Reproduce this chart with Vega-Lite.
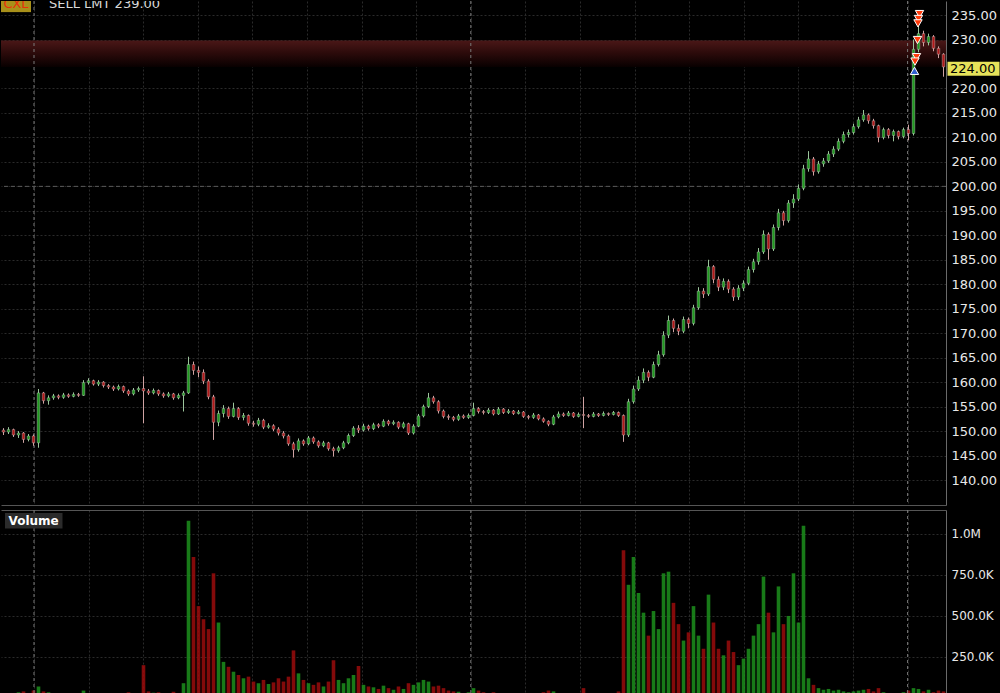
{
"$schema": "https://vega.github.io/schema/vega-lite/v6.json",
"background": "#000000",
"padding": 0,
"spacing": 3,
"config": {"font": "DejaVu Sans", "view": {"stroke": null}, "scale": {"continuousPadding": 0}, "axis": {"labelFont": "DejaVu Sans", "labelColor": "#e8e8e8", "labelFontSize": 13, "gridColor": "#2a2a2a", "gridDash": [2, 2], "domainColor": "#6a6a6a", "ticks": false, "title": null, "labelOverlap": false, "labelBound": false, "labelFlush": false}},
"datasets": {
"candles": [
{"i":0,"o":150.2,"c":149.8,"h":150.6,"l":149.2,"v":25},
{"i":1,"o":149.8,"c":150.3,"h":150.8,"l":149.4,"v":30},
{"i":2,"o":150.3,"c":149.2,"h":150.5,"l":148.8,"v":28},
{"i":3,"o":149.2,"c":149.6,"h":150.0,"l":148.6,"v":35},
{"i":4,"o":149.6,"c":148.3,"h":149.8,"l":147.6,"v":40},
{"i":5,"o":148.3,"c":149.0,"h":149.4,"l":147.9,"v":30},
{"i":6,"o":149.0,"c":147.6,"h":149.3,"l":147.0,"v":45},
{"i":7,"o":147.6,"c":157.8,"h":158.6,"l":146.6,"v":70},
{"i":8,"o":157.8,"c":156.2,"h":158.0,"l":155.6,"v":40},
{"i":9,"o":156.2,"c":156.8,"h":157.3,"l":155.4,"v":35},
{"i":10,"o":156.8,"c":157.2,"h":157.6,"l":156.4,"v":25},
{"i":11,"o":157.2,"c":156.9,"h":157.5,"l":156.5,"v":22},
{"i":12,"o":156.9,"c":157.4,"h":157.8,"l":156.6,"v":20},
{"i":13,"o":157.4,"c":157.1,"h":157.7,"l":156.8,"v":18},
{"i":14,"o":157.1,"c":157.5,"h":157.9,"l":156.9,"v":22},
{"i":15,"o":157.5,"c":157.3,"h":157.8,"l":157.0,"v":20},
{"i":16,"o":157.3,"c":159.9,"h":160.4,"l":157.2,"v":45},
{"i":17,"o":159.9,"c":160.3,"h":160.8,"l":159.5,"v":30},
{"i":18,"o":160.3,"c":159.6,"h":160.5,"l":159.3,"v":28},
{"i":19,"o":159.6,"c":160.0,"h":160.4,"l":159.2,"v":22},
{"i":20,"o":160.0,"c":159.3,"h":160.2,"l":158.9,"v":25},
{"i":21,"o":159.3,"c":159.0,"h":159.6,"l":158.6,"v":20},
{"i":22,"o":159.0,"c":158.6,"h":159.3,"l":158.2,"v":26},
{"i":23,"o":158.6,"c":159.1,"h":159.5,"l":158.3,"v":22},
{"i":24,"o":159.1,"c":158.2,"h":159.3,"l":157.8,"v":30},
{"i":25,"o":158.2,"c":157.6,"h":158.5,"l":157.2,"v":35},
{"i":26,"o":157.6,"c":158.4,"h":158.8,"l":157.3,"v":28},
{"i":27,"o":158.4,"c":158.7,"h":159.1,"l":158.0,"v":25},
{"i":28,"o":158.7,"c":158.2,"h":161.2,"l":151.6,"v":200},
{"i":29,"o":158.2,"c":157.8,"h":158.6,"l":157.4,"v":40},
{"i":30,"o":157.8,"c":158.3,"h":158.7,"l":157.5,"v":32},
{"i":31,"o":158.3,"c":157.6,"h":158.5,"l":157.2,"v":35},
{"i":32,"o":157.6,"c":157.2,"h":157.9,"l":156.8,"v":30},
{"i":33,"o":157.2,"c":157.6,"h":158.0,"l":156.9,"v":28},
{"i":34,"o":157.6,"c":156.8,"h":157.8,"l":156.4,"v":38},
{"i":35,"o":156.8,"c":157.3,"h":157.7,"l":156.5,"v":30},
{"i":36,"o":157.3,"c":157.8,"h":158.2,"l":154.0,"v":90},
{"i":37,"o":157.8,"c":163.6,"h":165.2,"l":157.6,"v":1080},
{"i":38,"o":163.6,"c":162.4,"h":164.2,"l":161.5,"v":860},
{"i":39,"o":162.4,"c":162.0,"h":163.2,"l":161.0,"v":560},
{"i":40,"o":162.0,"c":160.2,"h":162.6,"l":159.6,"v":480},
{"i":41,"o":160.2,"c":157.0,"h":160.6,"l":156.5,"v":420},
{"i":42,"o":157.0,"c":151.8,"h":157.4,"l":148.2,"v":760},
{"i":43,"o":151.8,"c":153.6,"h":154.2,"l":151.0,"v":460},
{"i":44,"o":153.6,"c":154.6,"h":155.3,"l":152.8,"v":220},
{"i":45,"o":154.6,"c":153.0,"h":155.0,"l":152.5,"v":190},
{"i":46,"o":153.0,"c":154.6,"h":155.8,"l":152.8,"v":160},
{"i":47,"o":154.6,"c":152.8,"h":154.9,"l":152.3,"v":140},
{"i":48,"o":152.8,"c":153.2,"h":153.7,"l":152.2,"v":120},
{"i":49,"o":153.2,"c":151.6,"h":153.4,"l":151.1,"v":130},
{"i":50,"o":151.6,"c":151.4,"h":152.1,"l":150.9,"v":100},
{"i":51,"o":151.4,"c":152.2,"h":152.7,"l":151.0,"v":90},
{"i":52,"o":152.2,"c":150.8,"h":152.5,"l":150.4,"v":110},
{"i":53,"o":150.8,"c":151.1,"h":151.6,"l":150.5,"v":85},
{"i":54,"o":151.1,"c":150.4,"h":151.4,"l":150.0,"v":95},
{"i":55,"o":150.4,"c":149.6,"h":150.8,"l":149.1,"v":120},
{"i":56,"o":149.6,"c":149.0,"h":150.0,"l":148.5,"v":100},
{"i":57,"o":149.0,"c":147.4,"h":149.3,"l":147.0,"v":130},
{"i":58,"o":147.4,"c":146.2,"h":147.8,"l":144.6,"v":290},
{"i":59,"o":146.2,"c":148.0,"h":148.5,"l":145.8,"v":150},
{"i":60,"o":148.0,"c":147.4,"h":148.3,"l":147.0,"v":110},
{"i":61,"o":147.4,"c":148.6,"h":149.0,"l":147.1,"v":90},
{"i":62,"o":148.6,"c":147.8,"h":148.9,"l":147.4,"v":80},
{"i":63,"o":147.8,"c":147.0,"h":148.1,"l":146.6,"v":95},
{"i":64,"o":147.0,"c":147.6,"h":148.0,"l":146.7,"v":70},
{"i":65,"o":147.6,"c":146.4,"h":147.8,"l":146.0,"v":100},
{"i":66,"o":146.4,"c":146.0,"h":146.8,"l":144.8,"v":230},
{"i":67,"o":146.0,"c":146.6,"h":147.0,"l":145.6,"v":110},
{"i":68,"o":146.6,"c":147.6,"h":148.0,"l":146.3,"v":90},
{"i":69,"o":147.6,"c":149.1,"h":149.5,"l":147.3,"v":120},
{"i":70,"o":149.1,"c":150.6,"h":151.0,"l":148.8,"v":140},
{"i":71,"o":150.6,"c":150.2,"h":151.2,"l":149.6,"v":195},
{"i":72,"o":150.2,"c":151.0,"h":151.5,"l":149.9,"v":80},
{"i":73,"o":151.0,"c":150.5,"h":151.3,"l":150.1,"v":70},
{"i":74,"o":150.5,"c":151.3,"h":151.7,"l":150.2,"v":65},
{"i":75,"o":151.3,"c":151.0,"h":151.6,"l":150.6,"v":55},
{"i":76,"o":151.0,"c":152.0,"h":152.4,"l":150.8,"v":75},
{"i":77,"o":152.0,"c":151.5,"h":152.3,"l":151.1,"v":60},
{"i":78,"o":151.5,"c":151.8,"h":152.2,"l":151.2,"v":50},
{"i":79,"o":151.8,"c":150.8,"h":152.0,"l":150.4,"v":70},
{"i":80,"o":150.8,"c":151.5,"h":151.9,"l":150.5,"v":55},
{"i":81,"o":151.5,"c":149.6,"h":151.7,"l":149.2,"v":90},
{"i":82,"o":149.6,"c":151.0,"h":151.4,"l":149.3,"v":80},
{"i":83,"o":151.0,"c":153.1,"h":153.5,"l":150.8,"v":95},
{"i":84,"o":153.1,"c":155.0,"h":155.4,"l":152.8,"v":110},
{"i":85,"o":155.0,"c":156.8,"h":157.8,"l":154.7,"v":100},
{"i":86,"o":156.8,"c":156.0,"h":157.2,"l":155.6,"v":70},
{"i":87,"o":156.0,"c":154.1,"h":156.3,"l":153.6,"v":75},
{"i":88,"o":154.1,"c":153.0,"h":154.4,"l":152.6,"v":60},
{"i":89,"o":153.0,"c":152.8,"h":153.4,"l":152.3,"v":45},
{"i":90,"o":152.8,"c":152.4,"h":153.1,"l":152.0,"v":40},
{"i":91,"o":152.4,"c":153.1,"h":153.5,"l":152.1,"v":38},
{"i":92,"o":153.1,"c":152.8,"h":153.4,"l":152.5,"v":30},
{"i":93,"o":152.8,"c":153.2,"h":153.6,"l":152.5,"v":35},
{"i":94,"o":153.2,"c":154.6,"h":155.8,"l":153.0,"v":60},
{"i":95,"o":154.6,"c":154.0,"h":154.9,"l":153.6,"v":45},
{"i":96,"o":154.0,"c":153.8,"h":154.3,"l":153.4,"v":35},
{"i":97,"o":153.8,"c":154.3,"h":154.7,"l":153.5,"v":30},
{"i":98,"o":154.3,"c":153.5,"h":154.5,"l":153.2,"v":35},
{"i":99,"o":153.5,"c":154.5,"h":154.9,"l":153.3,"v":28},
{"i":100,"o":154.5,"c":153.8,"h":154.7,"l":153.5,"v":30},
{"i":101,"o":153.8,"c":154.1,"h":154.5,"l":153.5,"v":25},
{"i":102,"o":154.1,"c":153.6,"h":154.3,"l":153.3,"v":28},
{"i":103,"o":153.6,"c":153.9,"h":154.3,"l":153.4,"v":22},
{"i":104,"o":153.9,"c":153.0,"h":154.1,"l":152.7,"v":30},
{"i":105,"o":153.0,"c":152.8,"h":153.3,"l":152.4,"v":25},
{"i":106,"o":152.8,"c":153.3,"h":153.7,"l":152.5,"v":22},
{"i":107,"o":153.3,"c":152.5,"h":153.5,"l":152.2,"v":30},
{"i":108,"o":152.5,"c":152.0,"h":152.8,"l":151.7,"v":35},
{"i":109,"o":152.0,"c":151.4,"h":152.2,"l":151.0,"v":45},
{"i":110,"o":151.4,"c":152.9,"h":153.3,"l":151.2,"v":40},
{"i":111,"o":152.9,"c":153.5,"h":154.0,"l":152.6,"v":30},
{"i":112,"o":153.5,"c":153.2,"h":153.8,"l":152.9,"v":25},
{"i":113,"o":153.2,"c":153.7,"h":154.1,"l":153.0,"v":22},
{"i":114,"o":153.7,"c":153.0,"h":153.9,"l":152.7,"v":28},
{"i":115,"o":153.0,"c":153.4,"h":153.8,"l":152.8,"v":20},
{"i":116,"o":153.4,"c":153.2,"h":157.0,"l":150.6,"v":60},
{"i":117,"o":153.2,"c":153.0,"h":153.5,"l":152.7,"v":25},
{"i":118,"o":153.0,"c":153.5,"h":153.9,"l":152.8,"v":22},
{"i":119,"o":153.5,"c":153.2,"h":153.7,"l":152.9,"v":20},
{"i":120,"o":153.2,"c":153.6,"h":154.0,"l":153.0,"v":25},
{"i":121,"o":153.6,"c":153.4,"h":153.8,"l":153.1,"v":22},
{"i":122,"o":153.4,"c":153.8,"h":154.1,"l":153.2,"v":28},
{"i":123,"o":153.8,"c":153.2,"h":154.0,"l":152.9,"v":40},
{"i":124,"o":153.2,"c":149.2,"h":153.4,"l":147.8,"v":900},
{"i":125,"o":149.2,"c":156.0,"h":156.6,"l":148.8,"v":690},
{"i":126,"o":156.0,"c":158.6,"h":159.3,"l":155.6,"v":860},
{"i":127,"o":158.6,"c":160.4,"h":161.2,"l":158.2,"v":640},
{"i":128,"o":160.4,"c":162.0,"h":162.8,"l":159.8,"v":520},
{"i":129,"o":162.0,"c":161.0,"h":162.4,"l":160.2,"v":380},
{"i":130,"o":161.0,"c":163.6,"h":164.2,"l":160.8,"v":530},
{"i":131,"o":163.6,"c":165.6,"h":166.4,"l":163.2,"v":420},
{"i":132,"o":165.6,"c":169.6,"h":170.4,"l":165.2,"v":760},
{"i":133,"o":169.6,"c":172.6,"h":173.6,"l":169.0,"v":770},
{"i":134,"o":172.6,"c":171.0,"h":173.0,"l":170.2,"v":580},
{"i":135,"o":171.0,"c":170.4,"h":171.8,"l":169.6,"v":450},
{"i":136,"o":170.4,"c":172.8,"h":173.4,"l":170.0,"v":350},
{"i":137,"o":172.8,"c":172.0,"h":173.2,"l":171.0,"v":400},
{"i":138,"o":172.0,"c":175.2,"h":175.8,"l":171.6,"v":560},
{"i":139,"o":175.2,"c":178.6,"h":179.4,"l":174.8,"v":380},
{"i":140,"o":178.6,"c":178.0,"h":179.2,"l":177.2,"v":300},
{"i":141,"o":178.0,"c":183.6,"h":185.0,"l":177.6,"v":630},
{"i":142,"o":183.6,"c":181.0,"h":183.9,"l":180.2,"v":460},
{"i":143,"o":181.0,"c":179.4,"h":181.6,"l":178.6,"v":300},
{"i":144,"o":179.4,"c":180.6,"h":181.2,"l":178.8,"v":260},
{"i":145,"o":180.6,"c":179.0,"h":181.0,"l":178.2,"v":350},
{"i":146,"o":179.0,"c":177.4,"h":179.4,"l":176.6,"v":280},
{"i":147,"o":177.4,"c":179.2,"h":179.8,"l":176.8,"v":200},
{"i":148,"o":179.2,"c":180.2,"h":180.8,"l":178.6,"v":240},
{"i":149,"o":180.2,"c":183.0,"h":183.6,"l":179.8,"v":300},
{"i":150,"o":183.0,"c":184.6,"h":185.2,"l":182.4,"v":380},
{"i":151,"o":184.6,"c":186.6,"h":187.4,"l":184.0,"v":450},
{"i":152,"o":186.6,"c":190.2,"h":191.0,"l":186.2,"v":740},
{"i":153,"o":190.2,"c":187.2,"h":190.6,"l":185.0,"v":520},
{"i":154,"o":187.2,"c":191.6,"h":192.2,"l":186.8,"v":400},
{"i":155,"o":191.6,"c":194.6,"h":195.4,"l":191.0,"v":680},
{"i":156,"o":194.6,"c":193.0,"h":195.0,"l":192.0,"v":450},
{"i":157,"o":193.0,"c":196.6,"h":197.2,"l":192.6,"v":500},
{"i":158,"o":196.6,"c":197.4,"h":198.4,"l":195.6,"v":760},
{"i":159,"o":197.4,"c":199.6,"h":200.4,"l":197.0,"v":460},
{"i":160,"o":199.6,"c":203.6,"h":204.4,"l":199.2,"v":1050},
{"i":161,"o":203.6,"c":205.6,"h":207.2,"l":203.0,"v":120},
{"i":162,"o":205.6,"c":203.0,"h":206.0,"l":202.2,"v":80},
{"i":163,"o":203.0,"c":204.6,"h":205.2,"l":202.6,"v":60},
{"i":164,"o":204.6,"c":205.2,"h":205.8,"l":204.0,"v":50},
{"i":165,"o":205.2,"c":206.6,"h":207.2,"l":204.8,"v":55},
{"i":166,"o":206.6,"c":207.6,"h":208.2,"l":206.0,"v":45},
{"i":167,"o":207.6,"c":209.2,"h":209.8,"l":207.2,"v":50},
{"i":168,"o":209.2,"c":210.6,"h":211.2,"l":208.8,"v":40},
{"i":169,"o":210.6,"c":211.0,"h":211.6,"l":210.0,"v":35},
{"i":170,"o":211.0,"c":212.2,"h":212.8,"l":210.6,"v":40},
{"i":171,"o":212.2,"c":213.6,"h":214.2,"l":211.8,"v":45},
{"i":172,"o":213.6,"c":214.6,"h":215.6,"l":213.2,"v":50},
{"i":173,"o":214.6,"c":213.4,"h":214.9,"l":212.8,"v":55},
{"i":174,"o":213.4,"c":212.4,"h":213.8,"l":211.8,"v":40},
{"i":175,"o":212.4,"c":210.0,"h":212.6,"l":209.0,"v":60},
{"i":176,"o":210.0,"c":211.6,"h":212.0,"l":209.6,"v":35},
{"i":177,"o":211.6,"c":210.4,"h":211.9,"l":209.8,"v":30},
{"i":178,"o":210.4,"c":211.2,"h":211.6,"l":209.2,"v":30},
{"i":179,"o":211.2,"c":210.2,"h":211.4,"l":209.6,"v":28},
{"i":180,"o":210.2,"c":211.6,"h":212.0,"l":209.8,"v":35},
{"i":181,"o":211.6,"c":210.8,"h":212.6,"l":209.4,"v":45},
{"i":182,"o":210.8,"c":228.0,"h":230.0,"l":210.4,"v":60},
{"i":183,"o":228.0,"c":231.2,"h":233.6,"l":227.4,"v":55},
{"i":184,"o":231.2,"c":229.4,"h":231.8,"l":228.6,"v":40},
{"i":185,"o":229.4,"c":230.6,"h":231.2,"l":228.8,"v":50},
{"i":186,"o":230.6,"c":228.2,"h":230.9,"l":227.6,"v":35},
{"i":187,"o":228.2,"c":227.0,"h":228.6,"l":226.2,"v":45},
{"i":188,"o":227.0,"c":224.4,"h":227.2,"l":222.4,"v":40}
],
"fills": [
{"i":183.2,"p":235.2,"side":"SELL"},
{"i":183.0,"p":234.2,"side":"SELL"},
{"i":182.9,"p":233.3,"side":"SELL"},
{"i":182.8,"p":229.9,"side":"SELL"},
{"i":182.6,"p":226.4,"side":"SELL"},
{"i":182.3,"p":225.5,"side":"SELL"},
{"i":182.2,"p":223.6,"side":"BUY"}
],
"sessions": [{"i": 6.1}, {"i": 93.46}, {"i": 180.82}]
},
"vconcat": [
{
"width": 945,
"height": 504,
"layer": [
{
"data": {"values": [{"top": 229.8, "bottom": 224.4}]},
"mark": {"type": "rect", "color": {"gradient": "linear", "x1": 0, "y1": 0, "x2": 0, "y2": 1, "stops": [{"offset": 0, "color": "#4a1717"}, {"offset": 0.5, "color": "#2a0a0a"}, {"offset": 1, "color": "#080000"}]}},
"encoding": {
"x": {"datum": -0.5, "type": "quantitative", "scale": {"domain": [-0.5, 188.5], "nice": false, "zero": false, "padding": 0},
"axis": {"orient": "bottom", "labels": false, "domain": true, "domainColor": "#555555", "grid": true, "tickCount": 40, "values": [6.1, 17.02, 27.94, 38.86, 49.78, 60.7, 71.62, 82.54, 93.46, 104.38, 115.3, 126.22, 137.14, 148.06, 158.98, 169.9, 180.82]}},
"x2": {"datum": 188.5},
"y": {"field": "top", "type": "quantitative", "scale": {"domain": [134.9, 237.87], "nice": false, "zero": false, "padding": 0},
"axis": {"orient": "right", "tickCount": 40, "values": [140, 145, 150, 155, 160, 165, 170, 175, 180, 185, 190, 195, 200, 205, 210, 215, 220, 225, 230, 235], "format": ".2f", "labelExpr": "datum.value === 225 ? '' : datum.label", "labelPadding": 5, "labelOverlap": false, "labelBound": false, "labelFlush": false, "domain": true, "grid": true}},
"y2": {"field": "bottom"}
}
},
{
"data": {"values": [{"p": 200}]},
"mark": {"type": "rule", "color": "#5a5a5a", "strokeDash": [4, 3], "strokeWidth": 1},
"encoding": {"y": {"field": "p", "type": "quantitative"}}
},
{
"data": {"name": "sessions"},
"mark": {"type": "rule", "color": "#7a7a7a", "strokeDash": [3, 3], "strokeWidth": 1},
"encoding": {"x": {"field": "i", "type": "quantitative"}}
},
{
"data": {"name": "candles"},
"mark": {"type": "rule", "strokeWidth": 1, "clip": true},
"encoding": {
"x": {"field": "i", "type": "quantitative"},
"y": {"field": "l", "type": "quantitative"},
"y2": {"field": "h"},
"color": {"condition": {"test": "datum.c >= datum.o", "value": "#9cc59c"}, "value": "#cfa3a3"}
}
},
{
"data": {"name": "candles"},
"mark": {"type": "bar", "size": 2.6, "clip": true, "stroke": "#c8c8c8", "strokeWidth": 0.4},
"encoding": {
"x": {"field": "i", "type": "quantitative"},
"y": {"field": "o", "type": "quantitative"},
"y2": {"field": "c"},
"color": {"condition": {"test": "datum.c >= datum.o", "value": "#1f9a1f"}, "value": "#b01818"}
}
},
{
"data": {"name": "fills"},
"mark": {"type": "point", "filled": true, "size": 70, "stroke": "#ffffff", "strokeWidth": 1, "opacity": 1},
"encoding": {
"x": {"field": "i", "type": "quantitative"},
"y": {"field": "p", "type": "quantitative"},
"shape": {"condition": {"test": "datum.side == 'SELL'", "value": "triangle-down"}, "value": "triangle-up"},
"fill": {"condition": {"test": "datum.side == 'SELL'", "value": "#ff3a0a"}, "value": "#2f5fd0"}
}
},
{
"data": {"values": [{"x1": -0.5, "x2": 5.5, "top": 239.6, "bottom": 235.6}]},
"mark": {"type": "rect", "color": "#a8901a", "clip": true},
"encoding": {"x": {"field": "x1", "type": "quantitative"}, "x2": {"field": "x2"}, "y": {"field": "top", "type": "quantitative"}, "y2": {"field": "bottom"}}
},
{
"data": {"values": [{"x": 2.5, "p": 239.0, "t": "CXL"}]},
"mark": {"type": "text", "color": "#e8300a", "fontSize": 13, "align": "center", "baseline": "middle", "dy": 8.5, "clip": true},
"encoding": {"x": {"field": "x", "type": "quantitative"}, "y": {"field": "p", "type": "quantitative"}, "text": {"field": "t"}}
},
{
"data": {"values": [{"x": 9.1, "p": 239.0, "t": "SELL LMT 239.00"}]},
"mark": {"type": "text", "color": "#d8d8d8", "fontSize": 13, "align": "left", "baseline": "middle", "dy": 8.5, "clip": true},
"encoding": {"x": {"field": "x", "type": "quantitative"}, "y": {"field": "p", "type": "quantitative"}, "text": {"field": "t"}}
},
{
"data": {"values": [{"x1": 188.8, "x2": 199.2, "top": 225.45, "bottom": 222.6}]},
"mark": {"type": "rect", "color": "#e6e25a"},
"encoding": {"x": {"field": "x1", "type": "quantitative"}, "x2": {"field": "x2"}, "y": {"field": "top", "type": "quantitative"}, "y2": {"field": "bottom"}}
},
{
"data": {"values": [{"x": 189.3, "p": 224.0, "t": "224.00"}]},
"mark": {"type": "text", "color": "#000000", "fontSize": 13, "align": "left", "baseline": "middle"},
"encoding": {"x": {"field": "x", "type": "quantitative"}, "y": {"field": "p", "type": "quantitative"}, "text": {"field": "t"}}
}
]
},
{
"width": 945,
"height": 186,
"layer": [
{
"data": {"name": "candles"},
"mark": {"type": "bar", "size": 3.6, "clip": true, "opacity": 0.85},
"encoding": {
"x": {"field": "i", "type": "quantitative", "scale": {"domain": [-0.5, 188.5], "nice": false, "zero": false, "padding": 0},
"axis": {"orient": "top", "labels": false, "domain": true, "domainColor": "#555555", "grid": true, "tickCount": 40, "values": [6.1, 17.02, 27.94, 38.86, 49.78, 60.7, 71.62, 82.54, 93.46, 104.38, 115.3, 126.22, 137.14, 148.06, 158.98, 169.9, 180.82]}},
"y": {"field": "v", "type": "quantitative", "scale": {"domain": [12, 1146], "nice": false, "zero": false, "padding": 0},
"axis": {"orient": "right", "tickCount": 10, "values": [250, 500, 750, 1000], "labelFontSize": 12, "labelExpr": "datum.value >= 1000 ? format(datum.value/1000, '.1f') + 'M' : format(datum.value, '.1f') + 'K'", "labelPadding": 5, "domain": true, "grid": true}},
"color": {"condition": {"test": "datum.c >= datum.o", "value": "#1c8f1c"}, "value": "#9a0c0c"}
}
},
{
"data": {"name": "sessions"},
"mark": {"type": "rule", "color": "#7a7a7a", "strokeDash": [3, 3], "strokeWidth": 1},
"encoding": {"x": {"field": "i", "type": "quantitative"}}
},
{
"data": {"values": [{"x1": 0.3, "x2": 11.8, "top": 1128, "bottom": 1033}]},
"mark": {"type": "rect", "color": "#2b2b2b"},
"encoding": {"x": {"field": "x1", "type": "quantitative"}, "x2": {"field": "x2"}, "y": {"field": "top", "type": "quantitative"}, "y2": {"field": "bottom"}}
},
{
"data": {"values": [{"x": 1.0, "p": 1080, "t": "Volume"}]},
"mark": {"type": "text", "color": "#ffffff", "fontSize": 12, "fontWeight": "bold", "align": "left", "baseline": "middle"},
"encoding": {"x": {"field": "x", "type": "quantitative"}, "y": {"field": "p", "type": "quantitative"}, "text": {"field": "t"}}
}
]
}
]
}
